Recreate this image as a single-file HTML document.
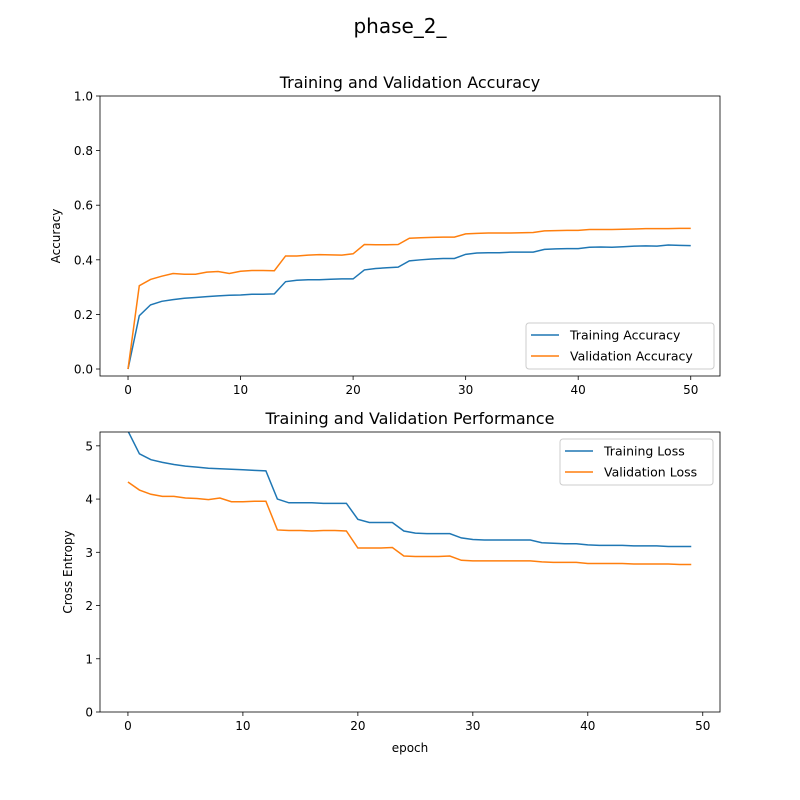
<!DOCTYPE html>
<html><head><meta charset="utf-8"><style>
body{margin:0;background:#fff;}
svg{display:block;font-family:"DejaVu Sans","Liberation Sans",sans-serif;}
</style></head><body>
<svg id="fig" width="800" height="800" viewBox="0 0 800 800">
<rect width="800" height="800" fill="#fff"/>
<text x="400" y="33" font-size="20" text-anchor="middle">phase_2_</text>
</svg>
<script>
const accEpochs = Array.from({length:51},(_,i)=>i);
const trainAcc=[0,0.195,0.235,0.248,0.254,0.259,0.262,0.265,0.268,0.270,0.271,0.274,0.274,0.275,0.32,0.325,0.327,0.327,0.329,0.330,0.330,0.363,0.368,0.371,0.373,0.396,0.400,0.403,0.405,0.405,0.420,0.425,0.426,0.426,0.428,0.428,0.428,0.438,0.440,0.441,0.441,0.446,0.447,0.446,0.448,0.450,0.451,0.450,0.454,0.453,0.452];
const valAcc=[0,0.305,0.328,0.340,0.350,0.347,0.347,0.355,0.357,0.350,0.358,0.361,0.361,0.360,0.414,0.414,0.417,0.419,0.418,0.417,0.422,0.456,0.455,0.455,0.456,0.479,0.481,0.482,0.483,0.483,0.495,0.497,0.498,0.498,0.498,0.499,0.500,0.506,0.507,0.508,0.508,0.511,0.511,0.511,0.512,0.513,0.514,0.514,0.514,0.515,0.515];
const lossEpochs = Array.from({length:50},(_,i)=>i);
const trainLoss=[5.28,4.85,4.74,4.69,4.65,4.62,4.60,4.58,4.57,4.56,4.55,4.54,4.53,4.0,3.93,3.93,3.93,3.92,3.92,3.92,3.62,3.56,3.56,3.56,3.40,3.36,3.35,3.35,3.35,3.27,3.24,3.23,3.23,3.23,3.23,3.23,3.18,3.17,3.16,3.16,3.14,3.13,3.13,3.13,3.12,3.12,3.12,3.11,3.11,3.11];
const valLoss=[4.32,4.17,4.09,4.05,4.05,4.02,4.01,3.99,4.02,3.95,3.95,3.96,3.96,3.42,3.41,3.41,3.40,3.41,3.41,3.40,3.08,3.08,3.08,3.09,2.93,2.92,2.92,2.92,2.93,2.85,2.84,2.84,2.84,2.84,2.84,2.84,2.82,2.81,2.81,2.81,2.79,2.79,2.79,2.79,2.78,2.78,2.78,2.78,2.77,2.77];
const accXTicks=[0,10,20,30,40,50];
const accYTicks=[0,0.2,0.4,0.6,0.8,1.0];
const lossXTicks=[0,10,20,30,40,50];
const lossYTicks=[0,1,2,3,4,5];
const NS="http://www.w3.org/2000/svg";
const svg=document.getElementById('fig');
function mk(tag,attrs,parent){const e=document.createElementNS(NS,tag);for(const k in attrs)e.setAttribute(k,attrs[k]);(parent||svg).appendChild(e);return e;}
function panel(cfg){
  const g=mk('g',{});
  
  
  const L=100,R=720,T=cfg.top,B=cfg.top+280;
  const sx=v=>L+(v-cfg.x0)/(cfg.x1-cfg.x0)*(R-L);
  const sy=v=>B-(v-cfg.y0)/(cfg.y1-cfg.y0)*(B-T);
  const t=mk('text',{x:410,y:T-8,'font-size':16,'text-anchor':'middle'},g);t.textContent=cfg.title;
  
  
  cfg.xt.forEach(v=>{const x=sx(v);mk('line',{x1:x,x2:x,y1:B,y2:B+4,stroke:'#000','stroke-width':0.8},g);
    const tt=mk('text',{x:x,y:B+18,'font-size':12,'text-anchor':'middle'},g);tt.textContent=v;
    
    });
  cfg.yt.forEach(v=>{const y=sy(v);mk('line',{x1:L-4,x2:L,y1:y,y2:y,stroke:'#000','stroke-width':0.8},g);
    const tt=mk('text',{x:L-7,y:y+4.5,'font-size':12,'text-anchor':'end'},g);tt.textContent=cfg.yfmt(v);
    
    });
  const yl=mk('text',{x:0,y:0,'font-size':12,'text-anchor':'middle',transform:`translate(${cfg.ylx},${(T+B)/2}) rotate(-90)`},g);yl.textContent=cfg.ylabel;
  
  
  if(cfg.xlabel){const xl=mk('text',{x:410,y:B+40,'font-size':12,'text-anchor':'middle'},g);xl.textContent=cfg.xlabel;
    
    }
  const cp='clip'+T;const cpe=mk('clipPath',{id:cp},g);mk('rect',{x:L,y:T,width:R-L,height:B-T},cpe);
  cfg.series.forEach(s=>{const pts=s.y.map((v,i)=>sx(cfg.xs[i]).toFixed(2)+','+sy(v).toFixed(2)).join(' ');
    const p=mk('polyline',{points:pts,fill:'none',stroke:s.c,'stroke-width':1.5,'clip-path':`url(#${cp})`},g);
    
    });
  mk('rect',{x:L,y:T,width:R-L,height:B-T,fill:'none',stroke:'#000','stroke-width':0.8},g);
  const lg=mk('g',{},g);
  
  
  const lx=cfg.lx,ly=cfg.ly;
  mk('rect',{x:lx,y:ly,width:cfg.lw,height:46,rx:3,fill:'#fff','fill-opacity':0.8,stroke:'#ccc'},lg);
  cfg.series.forEach((s,i)=>{const yy=ly+12+i*21;mk('line',{x1:lx+5,x2:lx+33,y1:yy,y2:yy,stroke:s.c,'stroke-width':1.5},lg);
    const lt=mk('text',{x:lx+44,y:yy+4.5,'font-size':12.5},lg);lt.textContent=s.label;
    
    });
}
panel({name:'accuracy-chart',top:96,title:'Training and Validation Accuracy',x0:-2.49,x1:52.6,y0:-0.0256,y1:1.0,
  xt:accXTicks,yt:accYTicks,yfmt:v=>v.toFixed(1),ylabel:'Accuracy',ylx:60,xs:accEpochs,lx:526,ly:323,lw:188,
  series:[{id:'training-accuracy-line',label:'Training Accuracy',c:'#1f77b4',y:trainAcc},{id:'validation-accuracy-line',label:'Validation Accuracy',c:'#ff7f0e',y:valAcc}]});
panel({name:'loss-chart',top:432,title:'Training and Validation Performance',x0:-2.43,x1:51.5,y0:0,y1:5.26,
  xt:lossXTicks,yt:lossYTicks,yfmt:v=>String(v),ylabel:'Cross Entropy',ylx:72,xlabel:'epoch',xs:lossEpochs,lx:560,ly:439,lw:153,
  series:[{id:'training-loss-line',label:'Training Loss',c:'#1f77b4',y:trainLoss},{id:'validation-loss-line',label:'Validation Loss',c:'#ff7f0e',y:valLoss}]});
</script>
</body></html>
